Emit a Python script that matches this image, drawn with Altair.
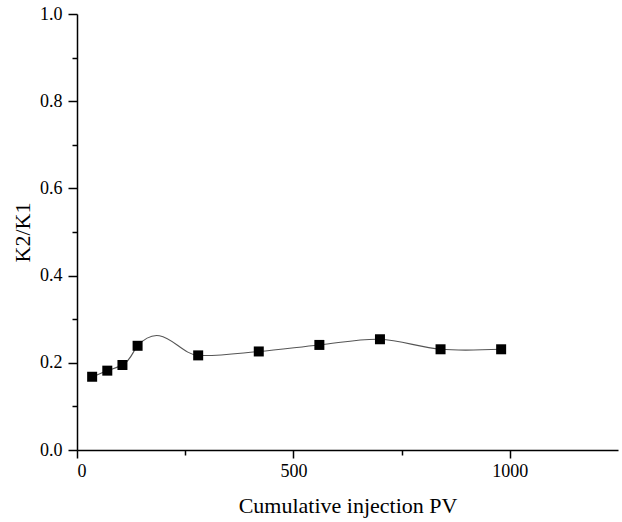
import altair as alt
import pandas as pd

# Cumulative injection (PV) and permeability ratio K2/K1
pv = [35, 70, 105, 140, 280, 420, 560, 700, 840, 980]
k_ratio = [0.168, 0.182, 0.195, 0.239, 0.217, 0.226, 0.241, 0.254, 0.231, 0.231]

x_ticks = [0, 250, 500, 750, 1000]
y_ticks = [0.0, 0.1, 0.2, 0.3, 0.4, 0.5, 0.6, 0.7, 0.8, 0.9, 1.0]

df = pd.DataFrame({"pv": pv, "ratio": k_ratio})

FONT = "Liberation Serif"

x_enc = alt.X(
    "pv:Q",
    scale=alt.Scale(domain=[0, 1250], nice=False, zero=False),
    axis=alt.Axis(
        title="Cumulative injection PV",
        values=x_ticks,
        labelExpr="datum.value % 500 == 0 ? format(datum.value, 'd') : ''",
        tickSize={"condition": {"test": "datum.value % 500 != 0", "value": 5}, "value": 8},
        grid=False,
        domainColor="black",
        domainWidth=1.5,
        tickColor="black",
        tickWidth=1.5,
        labelFont=FONT,
        labelFontSize=18,
        labelColor="black",
        labelPadding=4,
        titleFont=FONT,
        titleFontSize=22,
        titleFontWeight="normal",
        titleColor="black",
        titlePadding=15,
    ),
)

y_enc = alt.Y(
    "ratio:Q",
    scale=alt.Scale(domain=[0, 1], nice=False),
    axis=alt.Axis(
        title="K2/K1",
        values=y_ticks,
        labelExpr="round(datum.value * 10) % 2 == 1 ? '' : format(datum.value, '.1f')",
        tickSize={"condition": {"test": "round(datum.value * 10) % 2 == 1", "value": 5}, "value": 9},
        grid=False,
        domainColor="black",
        domainWidth=1.5,
        tickColor="black",
        tickWidth=1.5,
        labelFont=FONT,
        labelFontSize=18,
        labelColor="black",
        labelPadding=6,
        titleFont=FONT,
        titleFontSize=22,
        titleFontWeight="normal",
        titleColor="black",
        titlePadding=5,
    ),
)

base = alt.Chart(df).encode(x=x_enc, y=y_enc)

# chord-weighted Catmull-Rom spline through the measured points
curve = base.mark_line(interpolate="catmull-rom", tension=1.8, color="#555555", strokeWidth=1.1)
markers = base.mark_point(shape="square", filled=True, color="black", size=100, opacity=1)

chart = (
    alt.layer(curve, markers)
    .properties(
        width=541,
        height=436,
        autosize=alt.AutoSizeParams(type="none"),
        padding={"left": 77, "top": 14, "right": 4, "bottom": 72},
        background="white",
    )
    .configure_view(stroke=None)
)

chart.save("out.html", embed_options={"renderer": "svg", "actions": False})
